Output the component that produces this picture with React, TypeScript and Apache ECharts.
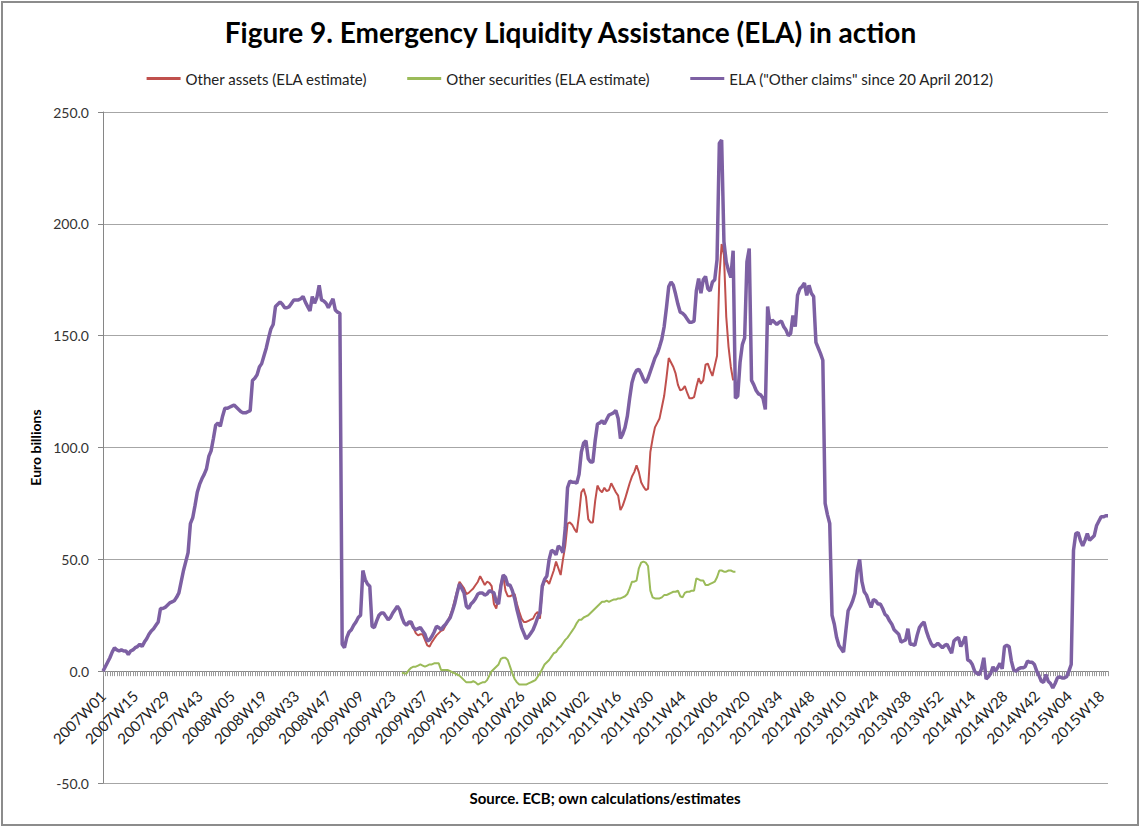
import React, { useEffect, useRef } from "react";
import * as echarts from "echarts";

// ISO weeks per year shown on the axis (2015 ends at W21)
const yearWeeks: [number, number][] = [
  [2007, 52], [2008, 52], [2009, 53], [2010, 52], [2011, 52],
  [2012, 52], [2013, 52], [2014, 52], [2015, 21],
];
const categories: string[] = [];
yearWeeks.forEach(([y, n]) => {
  for (let w = 1; w <= n; w++) categories.push(`${y}W${String(w).padStart(2, "0")}`);
});

const yMin = -50;
const yMax = 250;
const yStep = 50;

// ELA ("Other claims" since 20 April 2012), EUR bn, weekly
const ela2007 = [0,2,4,6,8.5,10.5,9.5,9,9.5,9,9,7.5,9,9.5,10.5,11,12,11,13,14.5,16.5,18,19,20.5,22,28,28,28.5,29.5,30.5,31,31.5,33,35,40,45,49,53,66,68.5,74,80,83.5,86,88,90.5,96,98.5,104,110,111,109.5];
const ela2008 = [114,117.5,117.5,118,118.5,119,118,117,116,115.5,115.5,116,116.5,130,131,132.5,136,137.5,141,144.5,149,153,155,163,164,165,164,162.5,162.5,163,164.5,166,166,166,166.5,167.5,165,163,161,167.5,164.5,167,172.5,166,165.5,164.5,162.5,164.5,166.5,161.5,160.5,160];
const ela2009 = [12,10.5,15,17.5,18.5,20.5,22,24,25,45,41,39,38,20,19.5,22.5,25,26,26,24.5,23,24,26,27.5,29,27.5,24,21.5,20.5,22,22,19.5,18.5,19,19.5,18,16.5,13.5,14,15.5,17.5,20,19.5,18.5,20,21,22.5,24,27,30.5,35,39,37];
const ela2010 = [35,29,28,30,31,32.5,34.5,35,35,34,34.5,36,35.5,35,31,30,38,43,42,38.5,38.5,36,32.5,27.5,23.5,19.5,17,14.5,15.5,17,18.5,21,24,26,38,41,42.5,50,54,53.5,52,56,55,53,64,82,85,84.5,84.5,84,88,98];
const ela2011 = [102,103,95,93.5,93.5,103,110.5,111,112,110.5,112.5,114.5,115,115.5,116.5,113,104,106,109,114,122,129,132.5,134.5,135,133,130.5,129,131,134,137,140,142,145,148.5,154,162.5,172,174,172.5,168.5,164,160.5,160,159,157.5,156,156,156.5,170,175.5,169];
const ela2012 = [175,176.5,171,170,174,175,184,236,237.5,192,183,179,176,188,122,123,138,146,149,183,189,130,128,125.5,124,123.5,122,117,163,155,157,156,155,156,156.5,154,152.5,150,151,159,154,168,171,172,173.5,168,172.5,169,167.5,147,144.5,142];
const ela2013 = [139,75,70,66,25,21,15,11.5,10,8.5,18,27,29,31.5,35,45,50,40,35.5,34,31,28.5,32,31.5,30,30,28,25.5,24.5,22.5,21,18.5,17.5,16.5,13,13.5,14,19,12,12,11.5,16,19.5,21,22,18,15,12.5,11,11.5,12.5,11.5];
const ela2014 = [10.5,11.5,12,10,8,13.5,14.5,15,11,13,15.5,5,4.5,3,0,-1,-1.5,1,6,-3.5,-2.5,-1,2,0,1.5,3.5,1,11,11.5,11,4.5,0.5,0,1,1.5,1.5,2,4.5,4,4,3,0,-2,-4.5,-5,-1.5,-4.5,-5.5,-7.5,-5.5,-3,-2.5];
const ela2015 = [-3,-3,-2.5,0,3,54,61.5,62,58.5,56,58.5,61.5,58.5,59.5,60.5,65,67,69,69,69.5,69.5];

// Estimates start at 2009W27
const estimateStart = "2009W27";

// Other assets (ELA estimate), from 2009W27 to 2012W14
const assets2009 = [24,21.5,20.5,21.5,21,19.5,17,16,16.5,16.5,14,11.5,11,13,14.5,16,17,18,18.5,20.5,22.5,25,28,32,36,40,38.5];
const assets2010 = [37,34.5,35,36,37,38.5,40,42.5,40.5,38.5,40,39.5,38,30,28,33,39,43,36,33.5,33.5,34,34.5,30,26.5,23.5,22,22,22.5,23,23.5,25.5,26.5,23.5,37,40,40.5,39,42,45,49,46,43,50,56,66,66.5,65.5,63.5,62,70,80];
const assets2011 = [81.5,78,68,66.5,66.5,76,83,81,80,82,80.5,81,84,82,80,78.5,72,74,77,80.5,84,87,89,92,89,84.5,82.5,81,81.5,98,104,109,111,113,118,123,131,140,138,136,133,128,125.5,126,127.5,124.5,122,122,122.5,127,131,128.5];
const assets2012 = [130,137,137.5,134.5,132,136.5,141,176,191,186,158.5,145,136,130];

// Other securities (ELA estimate), from 2009W27 to 2012W15
const securities2009 = [-0.5,-1,-1,0.5,1.5,2,2,2.5,3,2.5,2,2.5,3,3,3.5,3.5,3.5,0.5,0.5,0.5,0.5,0,-0.5,-1,-1.5,-2,-3];
const securities2010 = [-4,-5,-5,-5,-4.5,-5,-6,-5.5,-5,-5,-4,-2,0,1,2,3,5.5,6,6,5,2,-1,-3.5,-5,-6,-6,-6,-6,-5.5,-5,-4.5,-4,-2.5,-1,1,3,4,5,6.5,8,8.5,10,11,12.5,14,15,16.5,18,19.5,21.5,23,23];
const securities2011 = [24,24.5,25,26,27,28,29,30,31,31,31.5,31,31.5,32,32,32.5,32.5,33,33.5,34.5,37,40,40,40.5,46,48.5,49,48.5,47,36,33,32.5,32.5,32.5,33,34,34,34.5,35,35.5,35.5,36,33.5,33,35,35.5,35.5,36,36,41.5,41,40.5];
const securities2012 = [40.5,38.5,38.5,39,39.5,40,42,45,45,44.5,44.5,45,45,44.5,44.5];

const elaValues = [...ela2007, ...ela2008, ...ela2009, ...ela2010, ...ela2011, ...ela2012, ...ela2013, ...ela2014, ...ela2015];
const assetValues = [...assets2009, ...assets2010, ...assets2011, ...assets2012];
const securityValues = [...securities2009, ...securities2010, ...securities2011, ...securities2012];

const startIdx = categories.indexOf(estimateStart);
const toPairs = (vals: number[], offset: number) => vals.map((v, i) => [categories[offset + i], v]);

const FONT = "Lato, 'Open Sans', sans-serif";

const GRID_TOP = 112;
const GRID_BOTTOM = 45;
const CHART_H = 828;

export default function App() {
  const ref = useRef<HTMLDivElement>(null);
  useEffect(() => {
    document.body.style.margin = "0";
    if (!ref.current) return;
    const chart = echarts.init(ref.current, null, { renderer: "svg" });
    // distance between the bottom of the grid and the zero line, so labels sit next to the axis at 0
    const plotH = CHART_H - GRID_TOP - GRID_BOTTOM;
    const zeroOffset = (plotH * (0 - yMin)) / (yMax - yMin);
    chart.setOption({
      animation: false,
      backgroundColor: "#ffffff",
      title: {
        text: "Figure 9. Emergency Liquidity Assistance (ELA) in action",
        left: "center",
        top: 13,
        textStyle: { fontFamily: FONT, fontWeight: "bold", fontSize: 28, color: "#000" },
      },
      legend: {
        top: 66,
        left: "center",
        icon: "rect",
        itemWidth: 34,
        itemHeight: 3,
        itemGap: 40,
        textStyle: { fontFamily: FONT, fontSize: 15, color: "#222" },
      },
      grid: { left: 103, right: 33, top: GRID_TOP, bottom: GRID_BOTTOM },
      xAxis: {
        type: "category",
        data: categories,
        boundaryGap: false,
        axisLine: { onZero: true, lineStyle: { color: "#868686", width: 1 } },
        axisTick: { show: true, interval: 0, length: 5, lineStyle: { color: "#9a9a9a" } },
        axisLabel: {
          interval: 13,
          rotate: 45,
          fontFamily: FONT,
          fontSize: 15,
          color: "#222",
          margin: 22 - zeroOffset,
        },
        splitLine: { show: false },
      },
      yAxis: {
        type: "value",
        min: yMin,
        max: yMax,
        interval: yStep,
        axisLine: { show: true, lineStyle: { color: "#868686" } },
        axisTick: { show: true, length: 5, lineStyle: { color: "#868686" } },
        axisLabel: { formatter: (v: number) => v.toFixed(1), fontFamily: FONT, fontSize: 14, color: "#333", margin: 14 },
        splitLine: { lineStyle: { color: "#a6a6a6", width: 1 } },
        name: "Euro billions",
        nameLocation: "middle",
        nameGap: 58,
        nameTextStyle: { fontFamily: FONT, fontWeight: "bold", fontSize: 14, color: "#000" },
      },
      series: [
        {
          name: "Other assets (ELA estimate)",
          type: "line",
          data: toPairs(assetValues, startIdx),
          symbol: "none",
          lineStyle: { color: "#C0504D", width: 2 },
          itemStyle: { color: "#C0504D" },
        },
        {
          name: "Other securities (ELA estimate)",
          type: "line",
          data: toPairs(securityValues, startIdx),
          symbol: "none",
          lineStyle: { color: "#9BBB59", width: 2 },
          itemStyle: { color: "#9BBB59" },
        },
        {
          name: 'ELA ("Other claims" since 20 April 2012)',
          type: "line",
          data: toPairs(elaValues, 0),
          symbol: "none",
          lineStyle: { color: "#7D60A3", width: 3.5 },
          itemStyle: { color: "#7D60A3" },
        },
      ],
      graphic: [
        {
          type: "rect",
          silent: true,
          shape: { x: 2, y: 2, width: 1136, height: 823 },
          style: { fill: "none", stroke: "#8c8c8c", lineWidth: 2 },
        },
        {
          type: "text",
          x: 605,
          y: 798,
          silent: true,
          style: {
            text: "Source. ECB; own calculations/estimates",
            align: "center",
            verticalAlign: "middle",
            fontFamily: FONT,
            fontWeight: "bold",
            fontSize: 15,
            fill: "#000",
          },
        },
      ],
    });
    return () => chart.dispose();
  }, []);
  return <div ref={ref} style={{ width: 1141, height: 828 }} />;
}
